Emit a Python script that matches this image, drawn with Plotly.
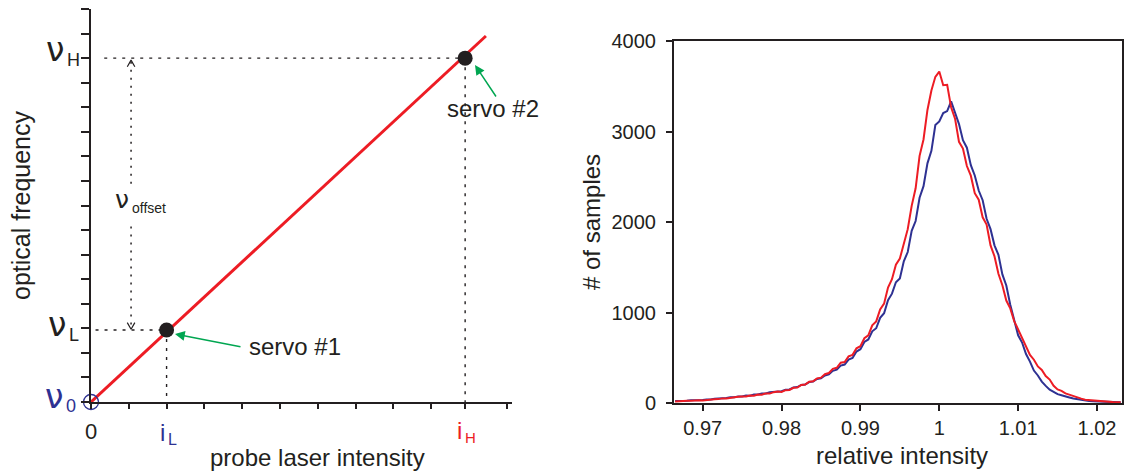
import plotly.graph_objects as go

W, H = 1124, 472
FONT = "Liberation Sans, Arial, Helvetica, sans-serif"
GREEK = "DejaVu Sans, Liberation Sans, sans-serif"
INK = "#231f20"
RED = "#ed1c24"
BLUE = "#2e3192"
GREEN = "#00a651"

# ---- left panel: optical frequency vs probe laser intensity (schematic units) ----
probe_intensity = [0.0, 10.45]
optical_freq = [0.0, 14.9]
servo_i = [2.0, 9.9]          # i_L, i_H
servo_nu = [2.93, 14.0]       # nu_L, nu_H
intensity_ticks = [0, 1, 2, 3, 4, 5, 6, 7, 8, 9, 9.9, 11]
freq_ticks = list(range(0, 17))

# ---- right panel: histograms of relative intensity ----
rel_intensity = [
    0.9665, 0.9670, 0.9675, 0.9680, 0.9685, 0.9690, 0.9695, 0.9700, 0.9705, 0.9710,
    0.9715, 0.9720, 0.9725, 0.9730, 0.9735, 0.9740, 0.9745, 0.9750, 0.9755, 0.9760,
    0.9765, 0.9770, 0.9775, 0.9780, 0.9785, 0.9790, 0.9795, 0.9800, 0.9805, 0.9810,
    0.9815, 0.9820, 0.9825, 0.9830, 0.9835, 0.9840, 0.9845, 0.9850, 0.9855, 0.9860,
    0.9865, 0.9870, 0.9875, 0.9880, 0.9885, 0.9890, 0.9895, 0.9900, 0.9905, 0.9910,
    0.9915, 0.9920, 0.9925, 0.9930, 0.9935, 0.9940, 0.9945, 0.9950, 0.9955, 0.9960,
    0.9965, 0.9970, 0.9975, 0.9980, 0.9985, 0.9990, 0.9995, 1.0000, 1.0005, 1.0010,
    1.0015, 1.0020, 1.0025, 1.0030, 1.0035, 1.0040, 1.0045, 1.0050, 1.0055, 1.0060,
    1.0065, 1.0070, 1.0075, 1.0080, 1.0085, 1.0090, 1.0095, 1.0100, 1.0105, 1.0110,
    1.0115, 1.0120, 1.0125, 1.0130, 1.0135, 1.0140, 1.0145, 1.0150, 1.0155, 1.0160,
    1.0165, 1.0170, 1.0175, 1.0180, 1.0185, 1.0190, 1.0195, 1.0200, 1.0205, 1.0210,
    1.0215, 1.0220, 1.0225, 1.0230,
]
counts_red = [
    17, 22, 20, 26, 24, 29, 31, 29, 36, 35,
    42, 43, 51, 49, 58, 59, 68, 72, 71, 82,
    81, 93, 92, 106, 104, 120, 126, 122, 142, 144,
    168, 171, 199, 204, 236, 241, 272, 280, 318, 331,
    378, 389, 446, 452, 515, 532, 604, 628, 716, 748,
    858, 902, 1034, 1098, 1276, 1368, 1528, 1596, 1762, 1921,
    2178, 2372, 2731, 2912, 3238, 3452, 3604, 3662, 3511, 3516,
    3268, 3142, 2886, 2812, 2618, 2512, 2318, 2246, 2052, 1972,
    1741, 1622, 1428, 1301, 1132, 1046, 905, 812, 702, 621,
    531, 478, 404, 366, 298, 259, 190, 150, 134, 106,
    92, 71, 56, 48, 37, 33, 25, 22, 16, 15,
    12, 10, 9, 8,
]
counts_blue = [
    21, 20, 25, 26, 31, 30, 35, 33, 40, 39,
    47, 47, 55, 55, 64, 63, 73, 72, 82, 81,
    93, 94, 105, 106, 119, 121, 131, 130, 147, 150,
    171, 176, 199, 205, 231, 238, 266, 273, 304, 316,
    355, 368, 413, 425, 479, 498, 569, 594, 675, 702,
    792, 826, 941, 992, 1136, 1208, 1334, 1376, 1566, 1668,
    1902, 2011, 2268, 2396, 2648, 2786, 3071, 3112, 3204, 3226,
    3334, 3196, 3082, 2904, 2821, 2628, 2514, 2348, 2241, 2036,
    1921, 1742, 1638, 1421, 1298, 1086, 931, 748, 668, 541,
    457, 358, 304, 236, 189, 147, 124, 98, 86, 70,
    61, 49, 41, 31, 27, 21, 18, 16, 12, 11,
    10, 9, 8, 7,
]
count_ticks = [0, 1000, 2000, 3000, 4000]
rel_ticks = [0.97, 0.98, 0.99, 1.0, 1.01, 1.02]
rel_ticktext = ["0.97", "0.98", "0.99", "1", "1.01", "1.02"]


def at(x, y):
    """Paper position from canvas pixels (origin top-left)."""
    return dict(x=x / W, y=1 - y / H, xref="paper", yref="paper")


fig = go.Figure()

# dotted guide lines
DOT = dict(color=INK, width=1.4, dash="3px,6px")
fig.add_trace(go.Scatter(x=[0.35, servo_i[1]], y=[servo_nu[1], servo_nu[1]], mode="lines", line=DOT,
                         xaxis="x", yaxis="y", hoverinfo="skip"))
fig.add_trace(go.Scatter(x=[servo_i[1], servo_i[1]], y=[servo_nu[1], 0], mode="lines", line=DOT,
                         xaxis="x", yaxis="y", hoverinfo="skip"))
fig.add_trace(go.Scatter(x=[0.12, servo_i[0]], y=[servo_nu[0], servo_nu[0]], mode="lines", line=DOT,
                         xaxis="x", yaxis="y", hoverinfo="skip"))
fig.add_trace(go.Scatter(x=[servo_i[0], servo_i[0]], y=[servo_nu[0], 0], mode="lines", line=DOT,
                         xaxis="x", yaxis="y", hoverinfo="skip"))

# nu_offset double arrow (dotted shaft, open heads)
OFF = dict(color=INK, width=1.5, dash="2px,6px")
xo = 1.06
fig.add_trace(go.Scatter(x=[xo, xo], y=[servo_nu[1] - 0.15, 8.7], mode="lines", line=OFF,
                         xaxis="x", yaxis="y", hoverinfo="skip"))
fig.add_trace(go.Scatter(x=[xo, xo], y=[7.15, servo_nu[0] + 0.15], mode="lines", line=OFF,
                         xaxis="x", yaxis="y", hoverinfo="skip"))
HEAD = dict(color=INK, width=1.2)
fig.add_trace(go.Scatter(x=[xo - 0.1, xo, xo + 0.1], y=[servo_nu[1] - 0.35, servo_nu[1] - 0.08, servo_nu[1] - 0.35],
                         mode="lines", line=HEAD, xaxis="x", yaxis="y", hoverinfo="skip"))
fig.add_trace(go.Scatter(x=[xo - 0.1, xo, xo + 0.1], y=[servo_nu[0] + 0.3, servo_nu[0] + 0.03, servo_nu[0] + 0.3],
                         mode="lines", line=HEAD, xaxis="x", yaxis="y", hoverinfo="skip"))

# linear frequency-vs-intensity relation
fig.add_trace(go.Scatter(x=probe_intensity, y=optical_freq, mode="lines", line=dict(color=RED, width=3),
                         xaxis="x", yaxis="y", hoverinfo="skip"))
# origin marker and servo lock points
fig.add_trace(go.Scatter(x=[0], y=[0], mode="markers",
                         marker=dict(symbol="circle-open", size=15, color=BLUE, line=dict(width=1.3, color=BLUE)),
                         xaxis="x", yaxis="y", hoverinfo="skip", cliponaxis=False))
fig.add_trace(go.Scatter(x=servo_i, y=servo_nu, mode="markers", marker=dict(size=15, color=INK),
                         xaxis="x", yaxis="y", hoverinfo="skip", cliponaxis=False))

# histograms
fig.add_trace(go.Scatter(x=rel_intensity, y=counts_blue, mode="lines", line=dict(color=BLUE, width=2),
                         xaxis="x2", yaxis="y2", hoverinfo="skip"))
fig.add_trace(go.Scatter(x=rel_intensity, y=counts_red, mode="lines", line=dict(color=RED, width=2),
                         xaxis="x2", yaxis="y2", hoverinfo="skip"))

AX = dict(showgrid=False, zeroline=False, showline=True, linecolor=INK, linewidth=2,
          ticks="outside", tickcolor=INK, tickwidth=1.5, automargin=False)

annotations = []


def label(x, y, text, size, color=INK, xanchor="center", angle=0, family=FONT):
    annotations.append(dict(**at(x, y), text=text, showarrow=False, xanchor=xanchor, yanchor="middle",
                            textangle=angle, font=dict(family=family, size=size, color=color)))


# frequency labels
label(66, 50, "ν", 33, xanchor="right", family=GREEK)
label(65, 60, "H", 18, xanchor="left")
label(68, 324, "ν", 33, xanchor="right", family=GREEK)
label(67, 335, "L", 18, xanchor="left")
label(65, 396, "ν", 33, color=BLUE, xanchor="right", family=GREEK)
label(64, 406, "0", 18, color=BLUE, xanchor="left")
label(131, 199, "ν", 25, xanchor="right", family=GREEK)
label(130, 208, "offset", 14, xanchor="left")

# intensity labels
label(91, 431, "0", 22)
label(167, 432, "i", 24, color=BLUE, xanchor="right")
label(166, 439, "L", 16, color=BLUE, xanchor="left")
label(464, 430, "i", 24, color=RED, xanchor="right")
label(463, 437, "H", 15, color=RED, xanchor="left")

# axis titles
label(21, 205, "optical frequency", 25, angle=-90)
label(317, 457, "probe laser intensity", 24)
label(591, 222, "# of samples", 24, angle=-90)
label(902, 455, "relative intensity", 24)

# servo annotations
label(295, 346, "servo #1", 24)
label(493, 108, "servo #2", 24)
for hx, hy, tx, ty in [(175, 334, 242, 347), (475, 65, 497, 98)]:
    annotations.append(dict(**at(hx, hy), text="", showarrow=True, ax=tx - hx, ay=ty - hy,
                            arrowcolor=GREEN, arrowwidth=1.5, arrowhead=2, arrowsize=1.3, standoff=0))

fig.update_layout(
    width=W, height=H, autosize=False,
    margin=dict(l=0, r=0, t=0, b=0, pad=0, autoexpand=False),
    paper_bgcolor="white", plot_bgcolor="white",
    showlegend=False,
    font=dict(family=FONT, color=INK),
    xaxis=dict(**AX, domain=[91 / W, 512 / W], range=[0, 11.14], tickvals=intensity_ticks,
               ticklen=5, showticklabels=False, anchor="y"),
    yaxis=dict(**AX, domain=[1 - 402 / H, 1 - 9 / H], range=[0, 16], tickvals=freq_ticks,
               ticklen=8, showticklabels=False, anchor="x"),
    xaxis2=dict(**AX, domain=[674 / W, 1122 / W], range=[0.96636, 1.02317], tickvals=rel_ticks,
                ticktext=rel_ticktext, ticklen=6, mirror=True, anchor="y2",
                tickfont=dict(family=FONT, size=20, color=INK)),
    yaxis2=dict(**AX, domain=[1 - 403 / H, 1 - 41 / H], range=[0, 4000], tickvals=count_ticks,
                ticklen=6, mirror=True, anchor="x2", ticklabelstandoff=6,
                tickfont=dict(family=FONT, size=20, color=INK)),
    annotations=annotations,
)

fig.write_html("out.html")
